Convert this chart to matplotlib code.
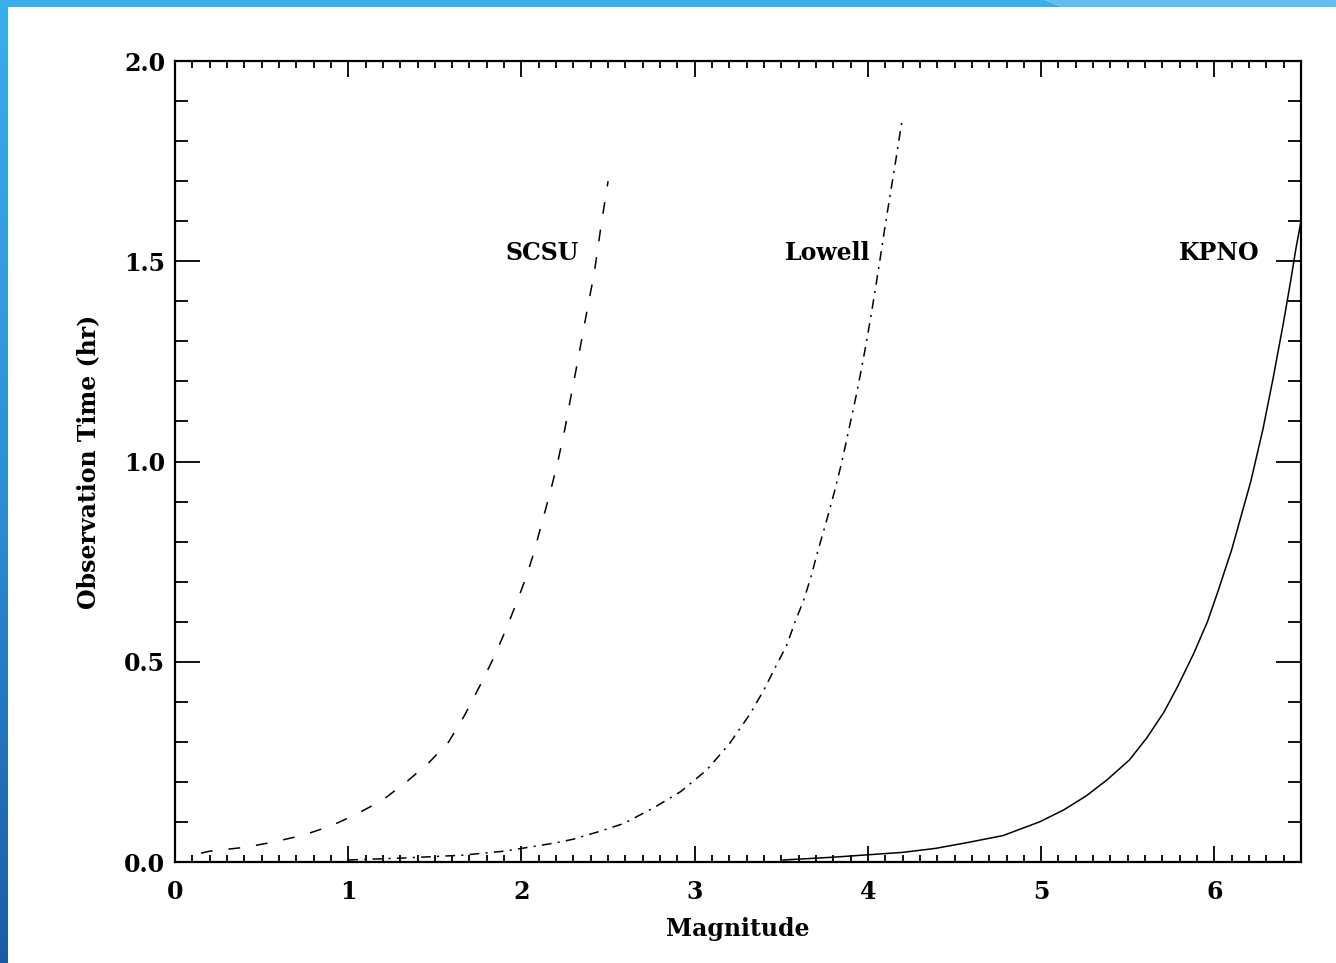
import matplotlib
matplotlib.use("Agg")
import matplotlib.pyplot as plt
from matplotlib.patches import Polygon
from matplotlib.colors import LinearSegmentedColormap
import numpy as np

# ---- data ----
scsu_mag = [0.15, 0.2, 0.41, 0.57, 0.74, 0.9, 1.05, 1.2, 1.35, 1.47, 1.58, 1.67, 1.76, 1.84, 1.9,
            1.97, 2.03, 2.07, 2.12, 2.17, 2.21, 2.25, 2.28, 2.32, 2.35, 2.38, 2.42, 2.44, 2.46, 2.5]
scsu_time = [0.022, 0.027, 0.037, 0.05, 0.067, 0.09, 0.12, 0.155, 0.205, 0.25, 0.30, 0.365, 0.44, 0.51, 0.57,
             0.645, 0.715, 0.77, 0.85, 0.93, 1.0, 1.08, 1.15, 1.24, 1.31, 1.38, 1.47, 1.53, 1.59, 1.70]

lowell_mag = [1.0, 1.32, 1.66, 1.9, 2.03, 2.2, 2.3, 2.44, 2.59, 2.77, 2.92, 3.07, 3.2, 3.32, 3.4, 3.47,
              3.53, 3.58, 3.63, 3.67, 3.71, 3.76, 3.81, 3.85, 3.89, 3.93, 3.96, 3.99, 4.02, 4.05, 4.07,
              4.10, 4.13, 4.16, 4.2]
lowell_time = [0.005, 0.01, 0.017, 0.027, 0.036, 0.048, 0.057, 0.075, 0.096, 0.137, 0.176, 0.23, 0.295,
               0.37, 0.43, 0.49, 0.54, 0.60, 0.655, 0.71, 0.775, 0.85, 0.93, 1.0, 1.08, 1.16, 1.225, 1.295,
               1.37, 1.45, 1.505, 1.59, 1.67, 1.75, 1.86]

kpno_mag = [3.51, 3.8, 4.0, 4.2, 4.39, 4.58, 4.78, 4.99, 5.13, 5.26, 5.38, 5.51, 5.61, 5.71, 5.79,
            5.88, 5.96, 6.02, 6.1, 6.21, 6.28, 6.34, 6.40, 6.44, 6.47, 6.5]
kpno_time = [0.005, 0.012, 0.018, 0.024, 0.034, 0.049, 0.066, 0.10, 0.13, 0.165, 0.205, 0.255, 0.31,
             0.375, 0.44, 0.52, 0.60, 0.675, 0.78, 0.95, 1.08, 1.21, 1.35, 1.45, 1.53, 1.60]

labels = ["SCSU", "Lowell", "KPNO"]
label_x = [2.12, 3.77, 6.03]
label_y = [1.52, 1.52, 1.52]

x_ticks = [0, 1, 2, 3, 4, 5, 6]
x_ticklabels = ["0", "1", "2", "3", "4", "5", "6"]
y_ticks = [0.0, 0.5, 1.0, 1.5, 2.0]
y_ticklabels = ["0.0", "0.5", "1.0", "1.5", "2.0"]

plt.rcParams['lines.scale_dashes'] = False
FONT = dict(family="DejaVu Serif", weight="bold")

W, H = 1336, 963
fig = plt.figure(figsize=(W / 100, H / 100), dpi=100)
fig.patch.set_facecolor("white")

# ---- slide-like blue border ----
bg = fig.add_axes([0, 0, 1, 1], zorder=-10)
bg.set_xlim(0, W)
bg.set_ylim(H, 0)
bg.axis("off")
grad = np.linspace(0, 1, 256).reshape(-1, 1)
cmap = LinearSegmentedColormap.from_list("edge", ["#3aaeea", "#2f8fd6", "#1d5aa6"])
bg.imshow(grad, extent=[0, 8, H, 0], cmap=cmap, aspect="auto", origin="upper")
bg.add_patch(Polygon([[0, 0], [1045, 0], [1062, 7], [0, 7]], closed=True, color="#3aaeea", lw=0))
bg.add_patch(Polygon([[1045, 0], [W, 0], [W, 7], [1062, 7]], closed=True, color="#62bcef", lw=0))

# ---- main plot ----
ax = fig.add_axes([175 / W, 1 - 862 / H, (1301 - 175) / W, (862 - 61) / H])
ax.plot(scsu_mag, scsu_time, color="black", lw=1.1, dashes=(8.5, 11.5))
ax.plot(lowell_mag, lowell_time, color="black", lw=1.1, dashes=(7, 4.5, 1.5, 4.5))
ax.plot(kpno_mag, kpno_time, color="black", lw=1.1)

for t, lx, ly in zip(labels, label_x, label_y):
    ax.text(lx, ly, t, ha="center", va="center", fontsize=17, **FONT)

ax.set_xlim(0, 6.5)
ax.set_ylim(0, 2.0)
ax.set_xticks(x_ticks)
ax.set_xticklabels(x_ticklabels, fontsize=17, **FONT)
ax.set_yticks(y_ticks)
ax.set_yticklabels(y_ticklabels, fontsize=17, **FONT)
ax.set_xticks(np.arange(0, 6.51, 0.1), minor=True)
ax.set_yticks(np.arange(0, 2.01, 0.1), minor=True)

ax.tick_params(which="both", direction="in", top=True, right=True, width=1.3, color="black")
ax.tick_params(axis="x", which="major", length=11.5, pad=13)
ax.tick_params(axis="x", which="minor", length=5)
ax.tick_params(axis="y", which="major", length=18, pad=7)
ax.tick_params(axis="y", which="minor", length=9.5)
for s in ax.spines.values():
    s.set_linewidth(1.6)

ax.set_xlabel("Magnitude", fontsize=17, labelpad=9, **FONT)
ax.set_ylabel("Observation Time (hr)", fontsize=17, labelpad=17, **FONT)

fig.savefig("out.png", dpi=100)
